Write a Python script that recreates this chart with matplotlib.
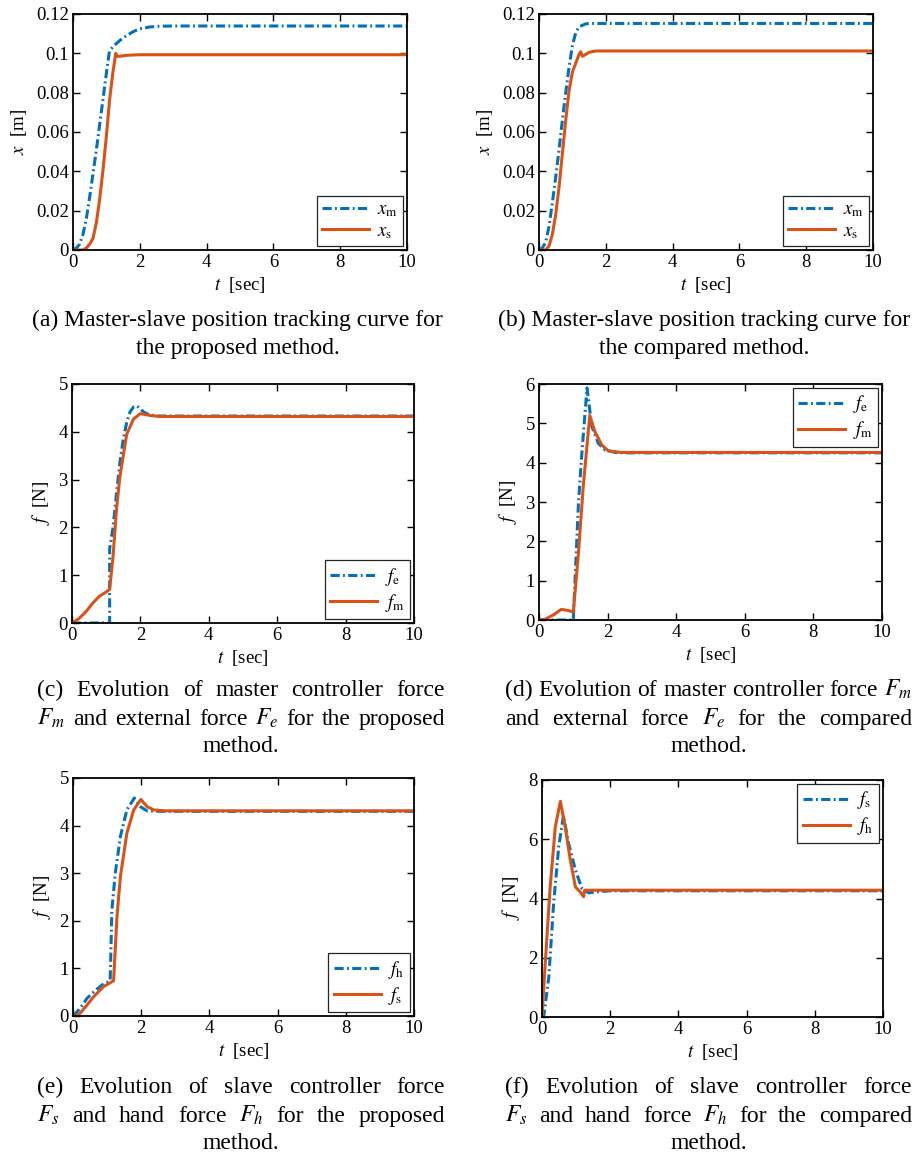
import matplotlib
matplotlib.use("Agg")
import matplotlib.pyplot as plt
from matplotlib.ticker import FuncFormatter

plt.rcParams["font.family"] = ["Liberation Serif", "DejaVu Serif"]
plt.rcParams["mathtext.fontset"] = "stix"

BLUE = "#0072BD"
ORANGE = "#D95319"

# (a) position tracking, proposed method
t_xm_a = [0, 0.1, 0.2, 0.3, 0.4, 0.5, 0.6, 0.7, 0.8, 0.9, 1.0, 1.09, 1.2, 1.4, 1.6, 1.8, 2.0, 2.3, 2.6, 3.0, 10]
xm_a = [0, 0.001, 0.003, 0.008, 0.016, 0.027, 0.039, 0.051, 0.064, 0.077, 0.090, 0.101, 0.1035, 0.1065,
        0.109, 0.111, 0.1125, 0.1134, 0.1138, 0.1139, 0.1139]
t_xs_a = [0, 0.3, 0.4, 0.5, 0.6, 0.7, 0.8, 0.9, 1.0, 1.1, 1.2, 1.28, 1.32, 1.4, 1.6, 2.0, 10]
xs_a = [0, 0, 0.001, 0.003, 0.006, 0.014, 0.026, 0.041, 0.058, 0.077, 0.091, 0.1, 0.0985, 0.0985, 0.099,
        0.0993, 0.0993]

# (b) position tracking, compared method
t_xm_b = [0, 0.1, 0.2, 0.3, 0.4, 0.5, 0.6, 0.7, 0.8, 0.9, 1.0, 1.1, 1.2, 1.4, 1.6, 10]
xm_b = [0, 0.001, 0.004, 0.012, 0.024, 0.037, 0.051, 0.066, 0.080, 0.093, 0.104, 0.1105, 0.1135, 0.115,
        0.1152, 0.1152]
t_xs_b = [0, 0.2, 0.3, 0.4, 0.5, 0.6, 0.7, 0.8, 0.9, 1.0, 1.1, 1.2, 1.25, 1.3, 1.5, 1.7, 10]
xs_b = [0, 0, 0.002, 0.008, 0.018, 0.032, 0.049, 0.066, 0.081, 0.0905, 0.095, 0.0995, 0.1008, 0.0985,
        0.1005, 0.1012, 0.1012]

# (c) master / external force, proposed
t_fe_c = [0, 1.1, 1.1, 1.2, 1.3, 1.4, 1.5, 1.6, 1.7, 1.8, 1.9, 2.0, 2.1, 2.25, 2.5, 10]
fe_c = [0, 0, 1.55, 2.0, 2.7, 3.35, 3.85, 4.2, 4.42, 4.52, 4.54, 4.48, 4.41, 4.36, 4.33, 4.33]
t_fm_c = [0, 0.2, 0.4, 0.6, 0.8, 1.0, 1.1, 1.2, 1.3, 1.4, 1.6, 1.8, 2.0, 2.3, 2.6, 10]
fm_c = [0, 0.09, 0.23, 0.41, 0.56, 0.65, 0.70, 1.39, 2.37, 3.06, 3.95, 4.27, 4.38, 4.34, 4.32, 4.32]

# (d) master / external force, compared
t_fe_d = [0, 1.0, 1.15, 1.25, 1.4, 1.54, 1.73, 1.93, 2.22, 2.5, 10]
fe_d = [0, 0, 2.97, 4.24, 5.9, 4.92, 4.49, 4.32, 4.26, 4.25, 4.25]
t_fm_d = [0, 0.18, 0.42, 0.65, 0.86, 1.0, 1.15, 1.29, 1.48, 1.63, 1.83, 2.02, 2.4, 10]
fm_d = [0, 0.02, 0.13, 0.27, 0.24, 0.2, 1.7, 3.39, 5.2, 4.79, 4.45, 4.3, 4.26, 4.26]

# (e) slave / hand force, proposed
t_fh_e = [0, 0.21, 0.41, 0.61, 0.85, 1.09, 1.14, 1.24, 1.39, 1.58, 1.8, 1.97, 2.17, 2.5, 10]
fh_e = [0, 0.16, 0.37, 0.51, 0.65, 0.74, 2.23, 3.0, 3.77, 4.33, 4.58, 4.4, 4.31, 4.3, 4.3]
t_fs_e = [0, 0.1, 0.21, 0.41, 0.61, 0.9, 1.19, 1.29, 1.39, 1.58, 1.78, 1.99, 2.17, 2.36, 2.7, 10]
fs_e = [0, 0, 0.06, 0.23, 0.41, 0.62, 0.74, 2.09, 2.93, 3.84, 4.33, 4.55, 4.4, 4.33, 4.31, 4.31]

# (f) slave / hand force, compared
t_fs_f = [0, 0.05, 0.2, 0.34, 0.49, 0.63, 0.78, 0.98, 1.17, 1.37, 1.66, 2.0, 10]
fs_f = [0, 0, 1.35, 3.83, 5.75, 6.8, 5.86, 4.96, 4.34, 4.19, 4.23, 4.26, 4.26]
t_fh_f = [0, 0.1, 0.24, 0.39, 0.54, 0.68, 0.83, 0.98, 1.12, 1.22, 1.25, 10]
fh_f = [0, 1.9, 4.4, 6.42, 7.28, 6.42, 5.3, 4.39, 4.22, 4.06, 4.28, 4.28]

W, H = 915, 1157
FS = 13.5
fig = plt.figure(figsize=(W / 100, H / 100), dpi=100)


def make_axes(x0, x1, y0, y1):
    return fig.add_axes([x0 / W, 1 - y1 / H, (x1 - x0) / W, (y1 - y0) / H])


def style(ax, ymax, yticks, ylabel):
    ax.set_xlim(0, 10)
    ax.set_ylim(0, ymax)
    ax.set_xticks([0, 2, 4, 6, 8, 10])
    ax.set_yticks(yticks)
    ax.yaxis.set_major_formatter(FuncFormatter(lambda v, p: "%g" % v))
    ax.tick_params(direction="in", top=True, right=True, labelsize=FS, length=5, width=1, pad=3)
    for s in ax.spines.values():
        s.set_linewidth(1.3)
    ax.set_xlabel(r"$t$  [sec]", fontsize=FS, labelpad=3)
    ax.set_ylabel(ylabel, fontsize=FS, labelpad=5)


def curves(ax, t1, y1, lab1, t2, y2, lab2, loc):
    ax.plot(t1, y1, color=BLUE, lw=2.2, dashes=(3.0, 1.1, 0.6, 1.1), label=lab1)
    ax.plot(t2, y2, color=ORANGE, lw=2.2, label=lab2)
    leg = ax.legend(loc=loc, fontsize=FS, fancybox=False, framealpha=1, edgecolor="0.15",
                    handlelength=2.5, handletextpad=0.4, borderaxespad=0.2, borderpad=0.3,
                    labelspacing=0.2)
    leg.get_frame().set_linewidth(0.9)


ax = make_axes(73, 407, 14, 250)
curves(ax, t_xm_a, xm_a, r"$x_\mathrm{m}$", t_xs_a, xs_a, r"$x_\mathrm{s}$", "lower right")
style(ax, 0.12, [0, 0.02, 0.04, 0.06, 0.08, 0.1, 0.12], r"$x$  [m]")

ax = make_axes(539, 873, 14, 250)
curves(ax, t_xm_b, xm_b, r"$x_\mathrm{m}$", t_xs_b, xs_b, r"$x_\mathrm{s}$", "lower right")
style(ax, 0.12, [0, 0.02, 0.04, 0.06, 0.08, 0.1, 0.12], r"$x$  [m]")

ax = make_axes(72, 414, 384, 623)
curves(ax, t_fe_c, fe_c, r"$f_\mathrm{e}$", t_fm_c, fm_c, r"$f_\mathrm{m}$", "lower right")
style(ax, 5, [0, 1, 2, 3, 4, 5], r"$f$  [N]")

ax = make_axes(539, 882, 384, 620)
curves(ax, t_fe_d, fe_d, r"$f_\mathrm{e}$", t_fm_d, fm_d, r"$f_\mathrm{m}$", "upper right")
style(ax, 6, [0, 1, 2, 3, 4, 5, 6], r"$f$  [N]")

ax = make_axes(73, 414, 778, 1016)
curves(ax, t_fh_e, fh_e, r"$f_\mathrm{h}$", t_fs_e, fs_e, r"$f_\mathrm{s}$", "lower right")
style(ax, 5, [0, 1, 2, 3, 4, 5], r"$f$  [N]")

ax = make_axes(542, 883, 780, 1017)
curves(ax, t_fs_f, fs_f, r"$f_\mathrm{s}$", t_fh_f, fh_f, r"$f_\mathrm{h}$", "upper right")
style(ax, 8, [0, 2, 4, 6, 8], r"$f$  [N]")

# captions
renderer = fig.canvas.get_renderer()
CAP = 17


def line(text, x0, x1, y, justify):
    yb = 1 - (y + 6) / H
    if not justify:
        fig.text((x0 + x1) / 2 / W, yb, text, ha="center", va="baseline", fontsize=CAP)
        return
    words = text.split(" ")
    objs = [fig.text(0, yb, w, ha="left", va="baseline", fontsize=CAP) for w in words]
    widths = [o.get_window_extent(renderer).width for o in objs]
    gap = (x1 - x0 - sum(widths)) / (len(words) - 1)
    x = x0
    for o, w in zip(objs, widths):
        o.set_x(x / W)
        x += w + gap


line("(a) Master-slave position tracking curve for", 33, 442, 320, False)
line("the proposed method.", 33, 442, 348, False)
line("(b) Master-slave position tracking curve for", 497, 912, 320, False)
line("the compared method.", 497, 912, 348, False)

line("(c) Evolution of master controller force", 37, 445, 690, True)
line(r"$F_m$ and external force $F_e$ for the proposed", 37, 445, 719, True)
line("method.", 37, 445, 746, False)
line(r"(d) Evolution of master controller force $F_m$", 505, 912, 690, True)
line(r"and external force $F_e$ for the compared", 505, 912, 719, True)
line("method.", 505, 912, 746, False)

line("(e) Evolution of slave controller force", 37, 445, 1087, True)
line(r"$F_s$ and hand force $F_h$ for the proposed", 37, 445, 1116, True)
line("method.", 37, 445, 1143, False)
line("(f) Evolution of slave controller force", 505, 912, 1087, True)
line(r"$F_s$ and hand force $F_h$ for the compared", 505, 912, 1116, True)
line("method.", 505, 912, 1143, False)

fig.savefig("out.png", dpi=100)
